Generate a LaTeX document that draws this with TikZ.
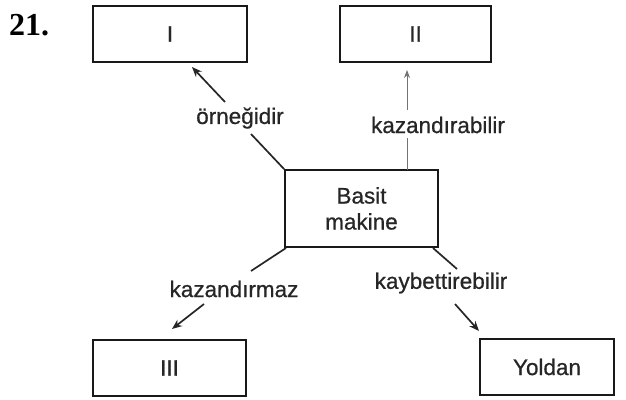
\documentclass[tikz,border=0pt]{standalone}
\usepackage{fontspec}
\setmainfont{Liberation Sans}[FakeBold=0.7]
\newfontfamily\numfont{Liberation Serif}
\usetikzlibrary{arrows.meta}
\begin{document}
\begin{tikzpicture}[x=1pt,y=-1pt,
  box/.style={draw=black!90,line width=1.7pt,minimum height=56pt,inner sep=0pt,
    font=\fontsize{22.5}{24}\selectfont,text=black!85},
  lbl/.style={inner sep=1pt,font=\fontsize{22.5}{24}\selectfont,text=black!85},
  conn/.style={draw=black!85,line width=1.7pt},
  arr/.style={conn,-{Stealth[length=10pt,width=8pt]}},
  thin/.style={draw=black!55,line width=0.8pt},
  thinarr/.style={thin,-{Stealth[length=8pt,width=6pt]}}]
\useasboundingbox (0,0) rectangle (626,399);
\node[anchor=base west,font=\numfont\bfseries\fontsize{32}{34}\selectfont,inner sep=0pt] (num) at (9,35) {21.};
\node[box,minimum width=154pt] (b1) at (170,34) {I};
\node[box,minimum width=151pt] (b2) at (415.5,34) {II};
\node[box,minimum width=153pt,minimum height=77pt,align=center,
  font=\fontsize{22.5}{26}\selectfont] (c) at (361.5,208.5) {Basit\\makine};
\node[box,minimum width=153pt] (b3) at (169.5,368) {III};
\node[box,minimum width=134pt] (b4) at (547,367) {Yoldan};
% labels
\node[lbl] (l1) at (240,118) {örneğidir};
\node[lbl] (l2) at (438,125) {kazandırabilir};
\node[lbl] (l3) at (234,289) {kazandırmaz};
\node[lbl] (l4) at (441,283) {kaybettirebilir};
% coordinates
\coordinate (p1a) at (251,134);
\coordinate (p1b) at (225,102);
\coordinate (t1) at (192,67);
\coordinate (s2) at (407,170);
\coordinate (p2a) at (407,138);
\coordinate (p2b) at (407,110);
\coordinate (t2) at (407,70);
\coordinate (s3) at (286,248);
\coordinate (p3a) at (251,271);
\coordinate (p3b) at (204,304);
\coordinate (t3) at (172,329);
\coordinate (s4) at (433,248);
\coordinate (p4a) at (457,269);
\coordinate (p4b) at (455,304);
\coordinate (t4) at (479,331);
% connectors
\draw[conn] (c.north west) -- (p1a);
\draw[arr] (p1b) -- (t1);
\draw[thin] (s2) -- (p2a);
\draw[thinarr] (p2b) -- (t2);
\draw[conn] (s3) -- (p3a);
\draw[arr] (p3b) -- (t3);
\draw[conn] (s4) -- (p4a);
\draw[arr] (p4b) -- (t4);
\end{tikzpicture}
\end{document}
